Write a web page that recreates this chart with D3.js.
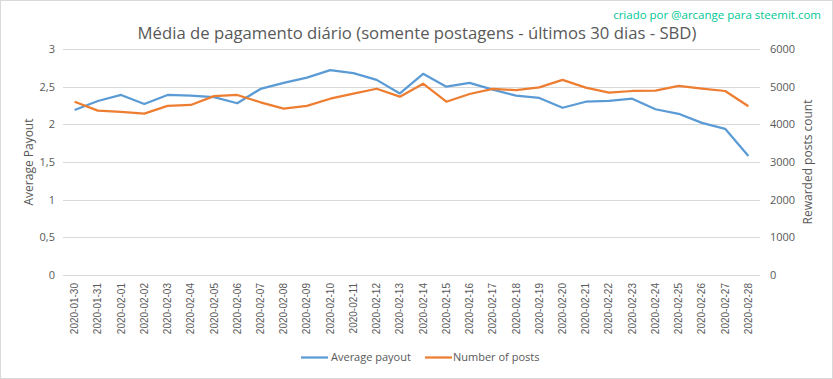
<!DOCTYPE html>
<html><head><meta charset="utf-8">
<script src="https://cdn.jsdelivr.net/npm/d3@7"></script>
<style>body{margin:0;background:#fff}svg{display:block;font-family:"Open Sans",sans-serif}</style>
</head><body><svg id="c" width="833" height="379"></svg>
<script>
const dates = ["2020-01-30","2020-01-31","2020-02-01","2020-02-02","2020-02-03","2020-02-04","2020-02-05","2020-02-06","2020-02-07","2020-02-08","2020-02-09","2020-02-10","2020-02-11","2020-02-12","2020-02-13","2020-02-14","2020-02-15","2020-02-16","2020-02-17","2020-02-18","2020-02-19","2020-02-20","2020-02-21","2020-02-22","2020-02-23","2020-02-24","2020-02-25","2020-02-26","2020-02-27","2020-02-28"];
const avgPayout = [2.19,2.31,2.39,2.27,2.39,2.38,2.36,2.28,2.47,2.55,2.62,2.72,2.68,2.59,2.41,2.67,2.50,2.55,2.46,2.38,2.35,2.22,2.30,2.31,2.34,2.20,2.14,2.02,1.94,1.58];
const numPosts = [4600,4365,4330,4285,4490,4515,4750,4780,4585,4415,4490,4680,4815,4945,4735,5080,4600,4805,4940,4910,4980,5180,4975,4840,4885,4895,5020,4950,4885,4480];
const leftTicks = [0,0.5,1,1.5,2,2.5,3];
const rightTicks = [0,1000,2000,3000,4000,5000,6000];
const title = "Média de pagamento diário (somente postagens - últimos 30 dias - SBD)";
const credit = "criado por @arcange para steemit.com";
const seriesNames = ["Average payout","Number of posts"];
const colors = ["#5b9bd5","#ed7d31"];

const svg = d3.select("#c");
const W=833,H=379;
const m={l:63,r:73,t:49,b:104};
svg.append("rect").attr("x",0.5).attr("y",0.5).attr("width",W-1).attr("height",H-1).attr("fill","#fff").attr("stroke","#d9d9d9");

const x = d3.scaleBand().domain(dates).range([m.l,W-m.r]);
const yL = d3.scaleLinear().domain([0,3]).range([H-m.b,m.t]);
const yR = d3.scaleLinear().domain([0,6000]).range([H-m.b,m.t]);
const fmtL = v=>String(v).replace(".",",");

svg.append("g").selectAll("line").data(leftTicks).join("line")
 .attr("x1",m.l).attr("x2",W-m.r).attr("y1",d=>Math.round(yL(d))+0.5).attr("y2",d=>Math.round(yL(d))+0.5)
 .attr("stroke","#d9d9d9").attr("stroke-width",1);

const gl = svg.append("g").attr("transform",`translate(${m.l-8},0)`)
 .call(d3.axisLeft(yL).tickValues(leftTicks).tickFormat(fmtL).tickSize(0).tickPadding(0));
gl.select(".domain").remove();
gl.selectAll("text").attr("fill","#595959").style("font-size","11px").style("font-family","Open Sans");

const gr = svg.append("g").attr("transform",`translate(${W-m.r+10},0)`)
 .call(d3.axisRight(yR).tickValues(rightTicks).tickFormat(d3.format("d")).tickSize(0).tickPadding(0));
gr.select(".domain").remove();
gr.selectAll("text").attr("fill","#595959").style("font-size","11px").style("font-family","Open Sans");

const gx = svg.append("g").attr("transform",`translate(0,${H-m.b+8})`)
 .call(d3.axisBottom(x).tickSize(0).tickPadding(0));
gx.select(".domain").remove();
gx.selectAll("text").attr("fill","#595959").style("font-size","10px").style("font-family","Liberation Sans")
 .attr("transform","rotate(-90)").attr("text-anchor","end").attr("dy","0.35em").attr("x",0).attr("y",0);

svg.append("text").attr("transform",`translate(33,${(m.t+H-m.b)/2}) rotate(-90)`).attr("text-anchor","middle")
 .attr("fill","#595959").style("font-size","12px").text("Average Payout");
svg.append("text").attr("transform",`translate(812,${(m.t+H-m.b)/2}) rotate(-90)`).attr("text-anchor","middle")
 .attr("fill","#595959").style("font-size","12px").text("Rewarded posts count");

const cx = d=>x(d)+x.bandwidth()/2;
svg.append("path").datum(avgPayout).attr("fill","none").attr("stroke",colors[0]).attr("stroke-width",2.25).attr("stroke-linejoin","round")
 .attr("d",d3.line().x((d,i)=>cx(dates[i])).y(d=>yL(d)));
svg.append("path").datum(numPosts).attr("fill","none").attr("stroke",colors[1]).attr("stroke-width",2.25).attr("stroke-linejoin","round")
 .attr("d",d3.line().x((d,i)=>cx(dates[i])).y(d=>yR(d)));

svg.append("text").attr("x",417).attr("y",39).attr("text-anchor","middle").attr("fill","#595959")
 .style("font-size","16.7px").text(title);
svg.append("text").attr("x",821).attr("y",19).attr("text-anchor","end").attr("fill","#00c896")
 .style("font-size","11.5px").text(credit);

const lg = svg.append("g");
const items=[{x:301,tx:331},{x:425,tx:453}];
items.forEach((it,i)=>{
 lg.append("line").attr("x1",it.x).attr("x2",it.x+27).attr("y1",357.5).attr("y2",357.5).attr("stroke",colors[i]).attr("stroke-width",2.25);
 lg.append("text").attr("x",it.tx).attr("y",361).attr("fill","#595959").style("font-size","11px").text(seriesNames[i]);
});
</script></body></html>
